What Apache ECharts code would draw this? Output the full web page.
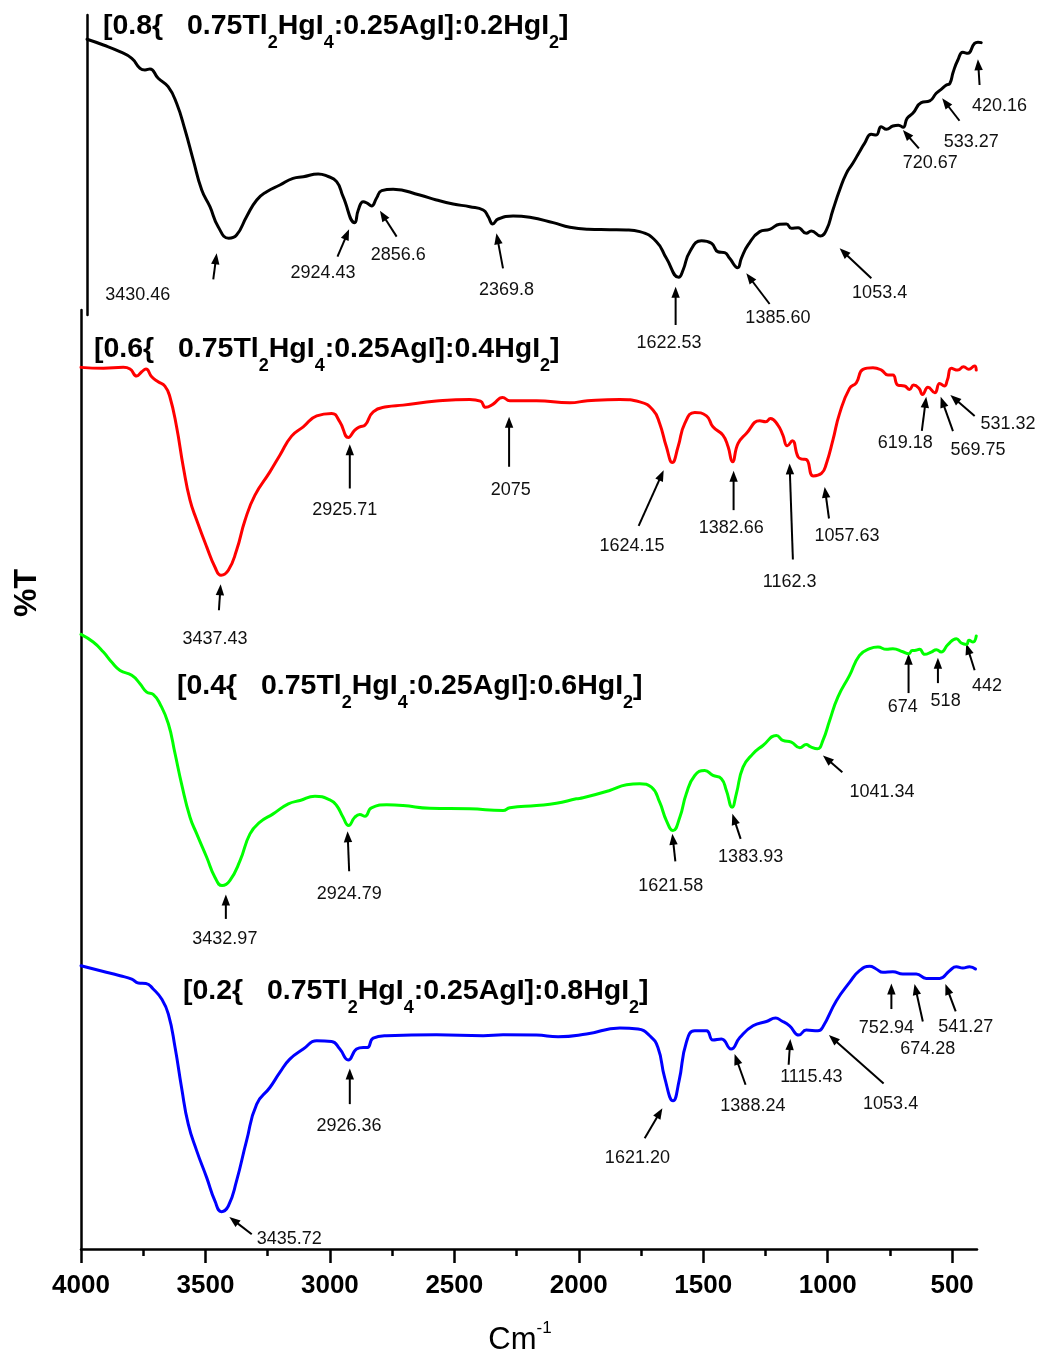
<!DOCTYPE html>
<html>
<head>
<meta charset="utf-8">
<script src="https://cdn.jsdelivr.net/npm/echarts@6/dist/echarts.min.js"></script>
<style>
html, body { margin: 0; padding: 0; background: #fff; }
#main { width: 1042px; height: 1356px; }
</style>
</head>
<body>
<div id="main"></div>
<script>
// FTIR spectra of four [x{0.75Tl2HgI4:0.25AgI}]:(1-x)HgI2 compositions (stacked, %T in arbitrary offset units)

const majorTicks = [4000, 3500, 3000, 2500, 2000, 1500, 1000, 500];
const minorTicks = [3750, 3250, 2750, 2250, 1750, 1250, 750];

const wnBlack = [4000,3934,3868,3820,3787,3767,3747,3714,3674,3640,3606,3573,3539,3506,3473,3430.46,3399,3359,3318,3278,3225,3172,3131,3071,3037,2997,2971,2924.43,2910,2890,2873,2856.6,2837,2816,2770,2663,2596,2529,2462,2408,2388,2369.8,2348,2288,2221,2127,2060,1987,1900,1833,1779,1712,1672,1622.53,1605,1578,1531,1491,1465,1438,1418,1385.60,1371,1344,1297,1257,1217,1190,1170,1143,1110,1090,1053.4,1029,1003,976,949,923,896,876,849,829,809,788,762,740,720.67,705,682,648,614,588,568,547,533.27,520,501,481,461,434,420.16,407];
const tBlack = [29.41,28.80,28.09,27.38,26.31,26.13,26.24,25.25,24.35,22.58,19.73,16.53,13.33,11.55,9.42,8.18,8.53,10.49,12.27,13.15,13.87,14.58,14.75,15.04,14.83,14.22,12.62,9.85,11.20,12.09,11.91,11.63,12.45,13.26,13.41,12.80,12.27,11.84,11.55,11.20,10.49,9.71,10.24,10.56,10.42,9.85,9.35,9.14,9.10,9.07,8.89,7.82,6.05,4.02,4.80,6.75,7.93,7.65,6.75,6.65,6.05,5.05,6.05,7.47,8.89,9.14,9.67,9.71,9.25,9.31,8.71,8.96,8.43,9.07,11.20,13.33,15.11,16.18,17.42,18.31,19.27,19.20,20.09,19.81,20.16,20.25,20.02,20.98,21.51,22.65,22.83,23.65,24.07,24.53,24.70,25.90,27.20,28.02,27.91,28.98,29.10,29.05];

const wnRed = [4000,3910,3830,3803,3776,3756,3739,3716,3690,3663,3643,3616,3589,3562,3535,3495,3462,3437.43,3408,3375,3341,3301,3241,3201,3154,3107,3053,2993,2960,2925.71,2900,2880,2859,2826,2772,2706,2572,2438,2395,2374,2344,2306,2277,2170,2036,1965,1835,1755,1702,1675,1648,1624.15,1601,1574,1534,1487,1461,1421,1400,1382.66,1360,1327,1273,1249,1230,1200,1180,1162.3,1142,1119,1102,1086,1057.63,1025,1005,979,952,912,885,858,818,784,758,738,718,691,671,655,633,619.18,597,569.75,550,531.32,519,503,477,454,433,410,403];
const tRed = [93.89,93.79,93.89,93.71,92.96,93.42,93.71,92.89,92.36,91.90,90.76,87.56,83.29,79.74,77.61,74.77,72.63,71.75,72.28,74.41,77.61,80.28,82.76,84.54,86.57,87.56,88.73,88.99,88.09,86.43,87.21,87.56,87.74,89.16,89.69,89.87,90.30,90.48,90.30,89.63,89.98,90.69,90.33,90.33,90.12,90.33,90.48,90.22,89.34,87.92,85.43,83.76,85.43,87.92,89.09,88.73,87.56,86.67,85.43,83.83,85.79,86.85,88.20,88.09,88.45,87.74,86.67,85.53,86.07,84.36,84.12,84.08,82.33,82.59,83.66,86.14,88.99,91.65,92.25,93.68,93.85,93.60,93.07,93.07,92.00,91.90,91.54,92.00,91.65,91.01,91.76,91.18,92.18,91.90,92.54,93.79,93.60,93.96,93.68,94.03,93.60];

const wnGreen = [4000,3951,3910,3877,3843,3796,3763,3736,3710,3683,3649,3622,3596,3562,3535,3495,3462,3432.97,3402,3361,3321,3281,3228,3167,3120,3060,3000,2973,2947,2924.79,2900,2880,2859,2833,2772,2706,2598,2438,2304,2277,2170,2090,2010,1983,1876,1808,1755,1708,1675,1648,1621.58,1594,1568,1534,1494,1461,1427,1407,1383.93,1367,1340,1300,1260,1206,1180,1146,1112,1086,1070,1041.34,1019,992,959,912,872,831,798,764,738,698,674,660,651,631,610,584,563,544,517,483,463,442,432,416,403];
const tGreen = [65.46,64.64,63.57,62.51,61.62,61.09,60.20,59.31,59.06,58.07,55.94,52.74,49.54,45.98,44.21,41.72,39.59,38.70,39.23,41.36,44.21,45.45,46.34,47.41,47.76,48.22,47.84,47.23,45.98,45.10,45.98,46.27,46.09,46.98,47.30,47.23,46.94,46.88,46.70,46.98,47.23,47.47,47.94,48.05,48.83,49.43,49.54,49.18,47.58,45.63,44.56,45.98,48.48,50.43,50.96,50.43,50.08,48.83,47.05,48.48,51.31,52.74,53.62,54.69,54.16,53.98,53.38,53.73,53.50,53.27,54.16,56.29,58.78,61.09,63.22,63.93,64.10,63.86,63.93,63.60,63.40,63.75,63.75,63.86,63.33,63.57,63.83,63.57,64.36,65.00,64.53,64.39,64.82,64.64,65.28];

const wnBlue = [4000,3910,3843,3796,3770,3739,3710,3676,3649,3622,3596,3569,3535,3495,3462,3435.72,3408,3375,3335,3294,3241,3201,3161,3107,3053,2993,2960,2926.36,2893,2866,2849,2826,2772,2572,2384,2304,2170,2083,1969,1835,1762,1715,1682,1655,1621.20,1597,1568,1534,1487,1461,1427,1388.24,1353,1300,1246,1209,1186,1153,1115.43,1086,1039,1019,965,912,872,831,805,778,738,698,644,604,550,510,483,457,430,406];
const tBlue = [30.17,29.56,29.10,28.75,28.33,28.28,27.69,26.62,25.02,21.46,17.20,13.29,10.45,7.60,5.12,3.98,4.58,7.25,11.51,15.43,17.20,18.80,20.22,21.29,22.17,22.10,21.29,20.12,21.29,21.46,21.46,22.46,22.71,22.81,22.71,22.81,22.78,22.60,22.89,23.53,23.42,22.71,21.46,18.26,15.78,17.91,21.99,23.24,23.24,22.25,22.36,21.29,22.53,23.77,24.23,24.59,24.31,23.77,22.78,23.32,23.24,23.67,26.44,28.39,29.64,30.10,29.82,29.46,29.53,29.29,29.29,28.82,28.82,29.64,30.06,29.92,30.06,29.82];

// Peak assignments (cm-1) written next to each spectrum
const blackPeaks = ['3430.46','2924.43','2856.6','2369.8','1622.53','1385.60','1053.4','720.67','533.27','420.16'];
const redPeaks   = ['3437.43','2925.71','2075','1624.15','1382.66','1162.3','1057.63','619.18','569.75','531.32'];
const greenPeaks = ['3432.97','2924.79','1621.58','1383.93','1041.34','674','518','442'];
const bluePeaks  = ['3435.72','2926.36','1621.20','1388.24','1115.43','1053.4','752.94','674.28','541.27'];

// Arrow layout: [tip wavenumber, tip %T, tail dx, tail dy, label dx, label dy] (offsets in px from the tip)
const blackArrows = [
  [3479, 6.58, -3.4, 26, -79, 41.7], [2947, 9.14, -11.6, 27.4, -26, 44], [2823, 11.13, 16.7, 26, 18.3, 44.3],
  [2355, 8.71, 6.6, 35, 10, 56.7], [1635, 3.02, 0, 38.3, -6.7, 56.6], [1351, 4.45, 23.3, 30.7, 31.6, 45],
  [976, 7.11, 31.7, 30, 40, 45], [722, 19.73, 16, 18.3, 27.4, 33.3], [564, 23.11, 17.3, 22.4, 29, 43.4],
  [420.5, 27.27, 1.7, 25.7, 21.7, 46.7]
];
const redArrows = [
  [3439, 70.79, -1.7, 26, -5.7, 54.3], [2920, 85.71, 0, 44.3, -5, 66], [2280, 88.63, 0, 50, 1.7, 73.3],
  [1659, 82.94, -25, 55.7, -31.7, 76], [1378, 82.87, 0, 39.3, -2.3, 57.6], [1153, 83.66, 3.3, 96, 0, 118.4],
  [1012, 81.16, 4.3, 31.6, 22.3, 49.3], [604, 90.76, -4.4, 34, -21, 46.6], [546, 90.76, 12.3, 34.3, 37.3, 53.3],
  [507, 90.94, 24.3, 21, 57.6, 29]
];
const greenArrows = [
  [3418, 37.74, 0, 24.3, -1, 44.3], [2929, 44.49, 1.6, 40, 1.6, 62.6], [1624, 44.21, 3, 27.4, -1.7, 51.7],
  [1383, 46.34, 8.3, 25, 18.3, 43.4], [1019, 52.56, 19.4, 16.7, 59, 36.7], [675, 63.40, 0, 39.4, -5.7, 53.4],
  [557, 62.97, 0, 25.4, 7.7, 43.4], [443, 64.47, 8.3, 26.7, 20.6, 42.7]
];
const blueArrows = [
  [3404, 3.41, 22.4, 17.3, 60, 22.3], [2920, 19.22, 0, 35.6, -0.7, 58], [1664, 15.0, -17.7, 30, -25, 50],
  [1374, 20.76, 11, 30.7, 18.3, 51.7], [1150, 22.36, -1.7, 25.7, 21, 38.4], [995, 22.78, 54.7, 48.4, 61.7, 69],
  [744, 28.28, 0, 25.6, -5, 44.6], [651, 28.22, 8.3, 37.4, 13.3, 65], [527, 28.22, 10.3, 27.4, 20.3, 42.7]
];

const FONT = "'Liberation Sans', Arial, Helvetica, sans-serif";
const pairs = (xs, ys) => xs.map((x, i) => [x, ys[i]]);

const plainY = (grid, max) => ({
  gridIndex: grid, type: 'value', min: 0, max: max,
  axisLine: { show: true, onZero: false, lineStyle: { color: '#000', width: 2.5 } },
  axisTick: { show: false }, axisLabel: { show: false }, splitLine: { show: false }
});

const lineSeries = (name, data, color, xi, yi) => ({
  name: name, type: 'line', data: data, xAxisIndex: xi, yAxisIndex: yi,
  showSymbol: false, symbol: 'none', smooth: 0.5,
  lineStyle: { color: color, width: 3, join: 'round', cap: 'round' }, silent: true
});

const option = {
  animation: false,
  backgroundColor: '#fff',
  grid: [
    { left: 87, top: 15, width: 896, height: 300 },
    { left: 81, top: 310, width: 896, height: 939 }
  ],
  xAxis: [
    { gridIndex: 0, type: 'value', min: 400, max: 4000, inverse: true, show: false },
    {
      gridIndex: 1, type: 'value', min: 400, max: 4000, inverse: true, position: 'bottom',
      axisLine: { show: true, onZero: false, lineStyle: { color: '#000', width: 2.5 } },
      axisTick: { show: true, length: 14, customValues: majorTicks, lineStyle: { color: '#000', width: 2.5 } },
      axisLabel: { customValues: majorTicks, formatter: v => String(v), color: '#000', fontSize: 26,
        fontWeight: 'bold', fontFamily: FONT, margin: 24 },
      splitLine: { show: false }
    },
    {
      gridIndex: 1, type: 'value', min: 400, max: 4000, inverse: true, position: 'bottom', offset: 0,
      axisLine: { show: false },
      axisTick: { show: true, length: 7, customValues: minorTicks, lineStyle: { color: '#000', width: 2.5 } },
      axisLabel: { show: false }, splitLine: { show: false }
    }
  ],
  yAxis: [plainY(0, 32), plainY(1, 100)],
  series: [
    lineSeries('0.8', pairs(wnBlack, tBlack), '#000000', 0, 0),
    lineSeries('0.6', pairs(wnRed, tRed), '#ff0000', 1, 1),
    lineSeries('0.4', pairs(wnGreen, tGreen), '#00ff00', 1, 1),
    lineSeries('0.2', pairs(wnBlue, tBlue), '#0000ff', 1, 1)
  ]
};

const chart = echarts.init(document.getElementById('main'), null, { renderer: 'canvas' });
chart.setOption(option);

const graphics = [];

// Peak arrows and their wavenumber labels
function addArrows(arrows, labels, seriesIndex) {
  arrows.forEach((a, i) => {
    const tip = chart.convertToPixel({ seriesIndex: seriesIndex }, [a[0], a[1]]);
    const hx = tip[0], hy = tip[1];
    const tx = hx + a[2], ty = hy + a[3];
    const dx = hx - tx, dy = hy - ty;
    const len = Math.hypot(dx, dy) || 1;
    const ux = dx / len, uy = dy / len;
    const L = 11, W = 4.2;
    const bx = hx - ux * L, by = hy - uy * L;
    graphics.push({ type: 'line', silent: true, shape: { x1: tx, y1: ty, x2: bx + ux, y2: by + uy },
      style: { stroke: '#000', lineWidth: 2 } });
    graphics.push({ type: 'polygon', silent: true,
      shape: { points: [[hx, hy], [bx - uy * W, by + ux * W], [bx + uy * W, by - ux * W]] },
      style: { fill: '#000' } });
    graphics.push({ type: 'text', silent: true, x: hx + a[4], y: hy + a[5],
      style: { text: labels[i], fontSize: 18, fontFamily: FONT, fill: '#111',
        align: 'center', verticalAlign: 'middle', textAlign: 'center', textVerticalAlign: 'middle' } });
  });
}
addArrows(blackArrows, blackPeaks, 0);
addArrows(redArrows, redPeaks, 1);
addArrows(greenArrows, greenPeaks, 2);
addArrows(blueArrows, bluePeaks, 3);

// Composition titles with chemical subscripts
const titleRich = { s: { fontSize: 18, fontWeight: 'bold', fontFamily: FONT, fill: '#000', lineHeight: 18, verticalAlign: 'bottom' } };
function addTitle(x, y, frac, rest) {
  graphics.push({ type: 'text', silent: true, x: x, y: y,
    style: { text: '[' + frac + '{   0.75Tl{s|2}HgI{s|4}:0.25AgI]:' + rest + 'HgI{s|2}]',
      fontSize: 28.5, fontWeight: 'bold', fontFamily: FONT, fill: '#000', lineHeight: 52,
      align: 'left', verticalAlign: 'middle', textAlign: 'left', textVerticalAlign: 'middle', rich: titleRich } });
}
addTitle(103, 26, '0.8', '0.2');
addTitle(94, 349, '0.6', '0.4');
addTitle(177, 686, '0.4', '0.6');
addTitle(183, 991, '0.2', '0.8');

// Axis titles
graphics.push({ type: 'text', silent: true, x: 27, y: 593, rotation: Math.PI / 2,
  style: { text: '%T', fontSize: 32, fontWeight: 'bold', fontFamily: FONT, fill: '#000',
    align: 'center', verticalAlign: 'middle', textAlign: 'center', textVerticalAlign: 'middle' } });
graphics.push({ type: 'text', silent: true, x: 520, y: 1340,
  style: { text: 'Cm{sup|-1}', fontSize: 31, fontFamily: FONT, fill: '#000', lineHeight: 40,
    align: 'center', verticalAlign: 'middle', textAlign: 'center', textVerticalAlign: 'middle',
    rich: { sup: { fontSize: 17, fontFamily: FONT, fill: '#000', lineHeight: 17, verticalAlign: 'top' } } } });

chart.setOption({ graphic: { elements: graphics } });
</script>
</body>
</html>
